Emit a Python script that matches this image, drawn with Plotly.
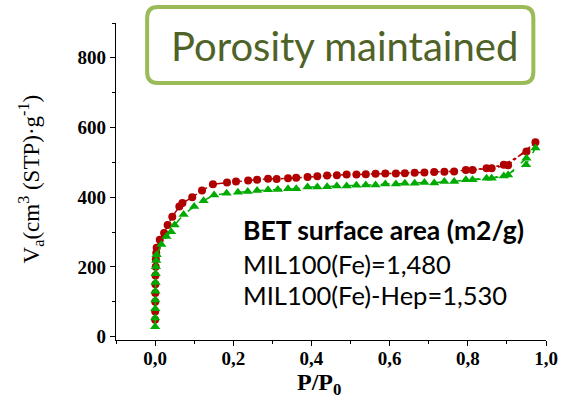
import plotly.graph_objects as go

# N2 sorption isotherms (adsorption branch followed by desorption branch)
hep_p = [0.0001, 0.0002, 0.0004, 0.0006, 0.0008, 0.001, 0.0015, 0.002, 0.003, 0.004,
         0.012, 0.023, 0.032, 0.044, 0.062, 0.070, 0.095, 0.120, 0.148, 0.184,
         0.207, 0.238, 0.261, 0.289, 0.311, 0.340, 0.361, 0.390, 0.415, 0.440,
         0.465, 0.490, 0.515, 0.539, 0.564, 0.589, 0.616, 0.639, 0.664, 0.689,
         0.714, 0.740, 0.765, 0.795, 0.848, 0.892, 0.950, 0.973,
         0.903, 0.861, 0.812]
hep_v = [48, 72, 100, 125, 150, 175, 200, 222, 240, 255,
         278, 297, 320, 344, 373, 383, 400, 419, 437, 442,
         445, 448, 450, 453, 452, 454, 456, 458, 460, 462,
         463, 465, 465, 466, 467, 468, 468, 469, 470, 471,
         472, 473, 474, 478, 483, 493, 531, 558,
         492, 483, 478]

fe_p = [0.0001, 0.0002, 0.0004, 0.0006, 0.0008, 0.001, 0.0015, 0.002, 0.003, 0.004,
        0.016, 0.029, 0.041, 0.050, 0.073, 0.100, 0.124, 0.151, 0.183, 0.212,
        0.237, 0.261, 0.289, 0.314, 0.340, 0.361, 0.390, 0.415, 0.440, 0.465,
        0.490, 0.515, 0.539, 0.564, 0.589, 0.616, 0.639, 0.664, 0.689, 0.714,
        0.740, 0.765, 0.795, 0.848, 0.892, 0.949, 0.973,
        0.950, 0.903, 0.861, 0.812]
fe_v = [28, 53, 80, 105, 130, 155, 180, 200, 218, 235,
        264, 287, 301, 320, 350, 373, 390, 406, 411, 414,
        416, 419, 421, 422, 424, 424, 429, 429, 430, 432,
        432, 434, 435, 435, 438, 438, 440, 440, 442, 441,
        445, 445, 450, 454, 461, 493, 541,
        512, 464, 454, 450]

bet_title = "BET surface area (m2/g)"
bet_lines = ["MIL100(Fe)=1,480", "MIL100(Fe)-Hep=1,530"]

W, H = 570, 410
ML, MR, MT, MB = 116, 12, 23, 70
PW, PH = W - ML - MR, H - MT - MB


def px(x):
    return (x - ML) / PW


def py(y):
    return (H - MB - y) / PH


fig = go.Figure()
fig.add_trace(go.Scatter(
    x=hep_p, y=hep_v, mode="lines+markers", name="MIL100(Fe)-Hep",
    line=dict(color="#B00000", width=1.5, dash="dashdot"),
    marker=dict(symbol="circle", size=8, color="#B00000"),
))
fig.add_trace(go.Scatter(
    x=fe_p, y=fe_v, mode="lines+markers", name="MIL100(Fe)",
    line=dict(color="#00AA00", width=1.5, dash="dash"),
    marker=dict(symbol="triangle-up", size=9, color="#00AA00"),
))

tick_font = dict(family="Liberation Serif", size=19, color="black", weight="bold")
axis_common = dict(
    showline=True, linecolor="black", linewidth=1.3, ticks="outside",
    ticklen=5, tickwidth=1.2, tickcolor="black", showgrid=False, zeroline=False,
    tickfont=tick_font,
)
fig.update_xaxes(range=[-0.1, 1.0], tick0=0, dtick=0.2, tickformat=".1f",
                 ticklabelstandoff=-4,
                 minor=dict(dtick=0.1, tick0=0, ticks="outside", ticklen=3,
                            tickcolor="black"),
                 **axis_common)
fig.update_yaxes(range=[-10, 900], tick0=0, dtick=200,
                 minor=dict(dtick=100, tick0=0, ticks="outside", ticklen=3,
                            tickcolor="black"),
                 **axis_common)

# rounded frame around the headline
x0, x1, y0, y1, r = 148, 545, 7, 83, 11
path = (f"M {px(x0 + r)},{py(y0)} L {px(x1 - r)},{py(y0)} "
        f"Q {px(x1)},{py(y0)} {px(x1)},{py(y0 + r)} L {px(x1)},{py(y1 - r)} "
        f"Q {px(x1)},{py(y1)} {px(x1 - r)},{py(y1)} L {px(x0 + r)},{py(y1)} "
        f"Q {px(x0)},{py(y1)} {px(x0)},{py(y1 - r)} L {px(x0)},{py(y0 + r)} "
        f"Q {px(x0)},{py(y0)} {px(x0 + r)},{py(y0)} Z")
fig.add_shape(type="path", path=path, xref="paper", yref="paper",
              line=dict(color="#9BBB59", width=4), fillcolor="white")

annots = [
    dict(text="Porosity maintained", x=px(351), y=py(46),
         font=dict(family="Lato", size=40, color="#4F6228"),
         xanchor="center", yanchor="middle"),
    dict(text=bet_title, x=px(244), y=py(230),
         font=dict(family="Lato", size=26.5, color="black", weight="bold"),
         xanchor="left", yanchor="middle"),
    dict(text=bet_lines[0], x=px(244), y=py(264),
         font=dict(family="Lato", size=25.5, color="black"),
         xanchor="left", yanchor="middle"),
    dict(text=bet_lines[1], x=px(244), y=py(295),
         font=dict(family="Lato", size=25.5, color="black"),
         xanchor="left", yanchor="middle"),
    dict(text="P/P<sub>0</sub>", x=px(325), y=py(367),
         font=dict(family="Liberation Serif", size=24, color="black", weight="bold"),
         xanchor="center", yanchor="top"),
    dict(text="V<sub>a</sub>(cm<sup>3</sup> (STP)·g<sup>-1</sup>)", x=px(28), y=py(179),
         textangle=-90,
         font=dict(family="Liberation Serif", size=23, color="black"),
         xanchor="center", yanchor="middle"),
]
for a in annots:
    fig.add_annotation(xref="paper", yref="paper", showarrow=False, **a)

fig.update_layout(
    width=W, height=H, margin=dict(l=ML, r=MR, t=MT, b=MB),
    paper_bgcolor="white", plot_bgcolor="white", showlegend=False,
    separators=",.",
)
fig.write_html("out.html", config={"displayModeBar": False})
